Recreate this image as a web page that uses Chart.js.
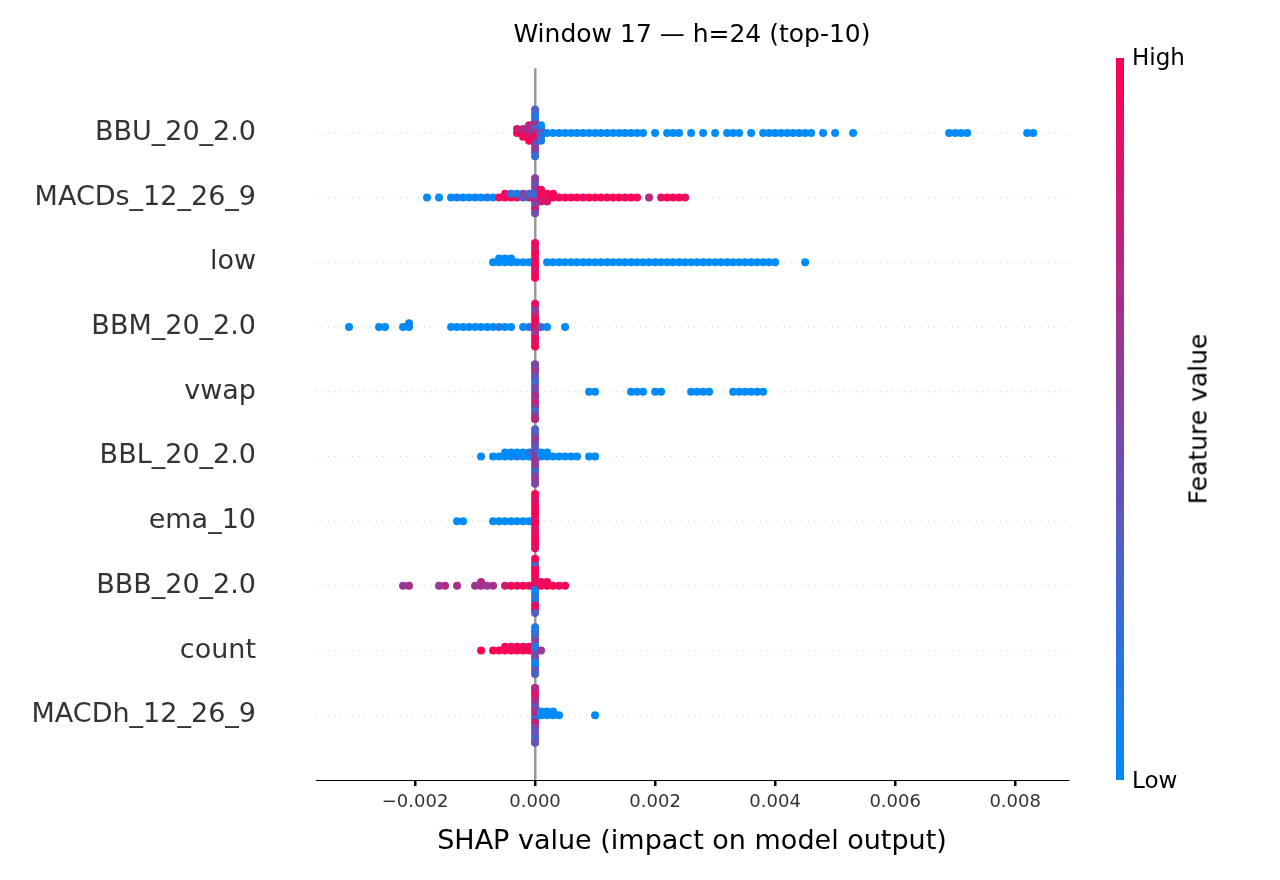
<!DOCTYPE html>
<html>
<head>
<meta charset="utf-8">
<script src="https://cdn.jsdelivr.net/npm/chart.js@4.4.1/dist/chart.umd.min.js"></script>
<style>
  body { margin: 0; background: #fff; font-family: "DejaVu Sans", sans-serif; }
  #wrap { position: relative; width: 1280px; height: 880px; }
  #title { position: absolute; top: 19px; left: 316px; width: 752px; text-align: center; font-size: 25px; color: #000; }
  #cbar { position: absolute; left: 1116px; top: 58px; width: 8px; height: 722px;
          background: linear-gradient(to bottom, #ff0052, #7c46a6, #008bfb); }
  .cl { position: absolute; left: 1132px; font-size: 23px; color: #000; }
  #fvl { position: absolute; left: 1198px; top: 419px; font-size: 25px; color: #000;
         transform: translate(-50%, -50%) rotate(-90deg); white-space: nowrap; }
</style>
</head>
<body>
<div id="wrap">
  <canvas id="c" width="1280" height="880"></canvas>
  <div id="title">Window 17 — h=24 (top-10)</div>
  <div id="cbar"></div>
  <div class="cl" style="top:44px">High</div>
  <div class="cl" style="top:767px">Low</div>
  <div id="fvl">Feature value</div>
</div>
<script>
// features, top to bottom
const features = ['BBU_20_2.0', 'MACDs_12_26_9', 'low', 'BBM_20_2.0', 'vwap',
                  'BBL_20_2.0', 'ema_10', 'BBB_20_2.0', 'count', 'MACDh_12_26_9'];
const xTicks = [-0.002, 0, 0.002, 0.004, 0.006, 0.008];

// SHAP values (x 1e-4) and feature values (0 = low, 1 = high)
const shapBBU = [-3,-3,-2,-2,-2,-1,-1,-1,-1,-1,0,0,0,0,0,0,0,0,0,0,0,0,0,1,1,1,1,1,2,3,4,5,6,7,8,9,10,11,12,13,14,15,16,17,18,20,22,23,24,26,28,30,32,33,34,36,38,39,40,41,42,43,44,45,46,48,50,53,69,70,71,72,82,83];
const featBBU = [0.9,0.8,0.9,0.7,0.95,0.9,0.6,0.8,0.7,1,0.5,0.6,0.9,0.3,0.8,0.7,0.4,0.2,0.6,0.1,0.5,0.3,0.2,0.1,0.4,0.2,0,0.1,0,0,0,0,0,0,0,0,0,0,0,0,0,0,0,0,0,0,0,0,0,0,0,0,0,0,0,0,0,0,0,0,0,0,0,0,0,0,0,0,0,0,0,0,0,0];
const shapMACDs = [-18,-16,-14,-13,-12,-11,-10,-9,-8,-7,-6,-5,-5,-4,-4,-3,-3,-2,-2,-1,-1,0,0,0,0,0,0,0,0,0,0,1,1,1,1,2,2,2,3,3,4,5,6,7,8,9,10,11,12,13,14,15,16,17,19,21,22,23,24,25];
const featMACDs = [0,0,0,0.1,0,0,0.05,0,0.1,0,0.95,1,0.9,1,0.2,0.9,0.1,0.3,0.5,0.6,0.3,0.5,0.2,0.7,0.3,0.4,0.6,0.8,0.35,0.45,0.55,0.9,1,0.8,0.95,1,0.9,0.85,0.95,1,0.9,1,0.95,1,0.9,1,0.95,1,0.9,1,0.95,0.9,1,0.95,0.7,0.9,1,0.95,1,0.9];
const shapLow = [-7,-6,-6,-5,-5,-4,-4,-3,-2,-1,0,0,0,0,0,0,0,0,0,0,2,3,4,5,6,7,8,9,10,11,12,13,14,15,16,17,18,19,20,21,22,23,24,25,26,27,28,29,30,31,32,33,34,35,36,37,38,39,40,45];
const featLow = [0,0,0,0,0,0,0,0,0,0,1,0.9,1,0.95,0.85,1,0.9,0.8,1,0.95,0,0,0,0,0,0,0,0,0,0,0,0,0,0,0,0,0,0,0,0,0,0,0,0,0,0,0,0,0,0,0,0,0,0,0,0,0,0,0,0];
const shapBBM = [-31,-26,-25,-22,-21,-21,-14,-13,-12,-11,-10,-9,-8,-7,-6,-5,-4,-2,-1,0,0,0,0,0,0,0,0,0,0,0,0,1,2,5];
const featBBM = [0,0,0,0,0,0.05,0,0,0,0.05,0,0,0,0,0.1,0,0,0,0.2,0.9,1,0.8,0.95,0.6,0.9,1,0.7,0.85,0.5,1,0.9,0.3,0,0];
const shapVwap = [0,0,0,0,0,0,0,0,0,0,0,0,0,0,0,0,0,0,9,10,16,17,18,20,21,26,27,28,29,33,34,35,36,37,38];
const featVwap = [0.3,0.5,0.7,0.4,0.6,0.2,0.8,0.35,0.55,0.45,0.25,0.65,0.5,0.4,0.6,0.3,0.7,0.5,0,0,0,0,0,0,0,0,0,0,0,0,0,0,0,0,0];
const shapBBL = [-9,-7,-6,-5,-5,-4,-4,-3,-3,-2,-2,-1,-1,0,0,0,0,0,0,0,0,0,0,0,0,0,0,0,1,1,2,2,3,4,5,6,7,9,10];
const featBBL = [0,0,0,0,0,0,0,0.1,0,0,0,0,0.2,0.3,0.5,0.7,0.4,0.6,0.35,0.55,0.45,0.2,0.65,0.5,0.4,0.6,0.3,0.5,0.1,0,0,0,0,0,0,0,0,0,0];
const shapEma = [-13,-12,-7,-6,-5,-4,-3,-2,-1,0,0,0,0,0,0,0,0,0,0,0,0,0,0,0];
const featEma = [0,0,0,0,0,0,0,0,0,1,0.9,1,0.95,0.85,1,0.9,1,0.95,0.9,1,0.85,0.95,1,0.9];
const shapBBB = [-22,-21,-16,-15,-13,-10,-9,-9,-8,-7,-5,-4,-3,-2,-1,0,0,0,0,0,0,0,0,0,0,0,0,0,0,0,1,1,2,2,3,4,5];
const featBBB = [0.6,0.65,0.6,0.7,0.65,0.6,0.65,0.7,0.6,0.65,0.8,0.95,0.9,1,0.9,1,0.95,0.1,0.9,0,1,0.2,0.95,0.1,1,0.9,0.2,0.95,1,0.3,1,0.9,1,0.95,1,0.9,1];
const shapCount = [-9,-7,-6,-5,-5,-4,-4,-3,-3,-2,-2,-1,-1,0,0,0,0,0,0,0,0,0,0,0,0,0,1];
const featCount = [1,1,1,0.95,1,1,0.9,1,0.95,1,0.9,1,0.95,0.3,0.1,0.4,0.2,0.5,0.6,0.1,0.3,0,0.2,0.4,0.1,0.3,0.6];
const shapMACDh = [0,0,0,0,0,0,0,0,0,0,0,0,0,0,0,0,0,1,1,2,2,3,3,4,10];
const featMACDh = [0.5,0.7,0.3,0.6,0.8,0.4,0.55,0.65,0.35,0.75,0.45,0.9,0.25,0.6,0.5,0.7,0.4,0,0,0,0,0,0,0,0];

const shapRows = [shapBBU, shapMACDs, shapLow, shapBBM, shapVwap, shapBBL, shapEma, shapBBB, shapCount, shapMACDh];
const featRows = [featBBU, featMACDs, featLow, featBBM, featVwap, featBBL, featEma, featBBB, featCount, featMACDh];

function colorFor(v) {
  const a = [0, 139, 251], b = [255, 0, 82];
  const c = a.map((x, i) => Math.round(x + (b[i] - x) * v));
  return `rgb(${c[0]},${c[1]},${c[2]})`;
}

// beeswarm layout: stack points that share an x bin
const points = [], colors = [];
shapRows.forEach((xs, row) => {
  const bins = {};
  xs.forEach((s, i) => {
    const key = Math.round(s);
    const k = bins[key] = (bins[key] || 0) + 1;
    const layer = Math.floor(k / 2) * (k % 2 ? 1 : -1);
    const off = Math.max(-0.42, Math.min(0.42, layer * 0.06));
    points.push({ x: s / 10000, y: row + off });
    colors.push(colorFor(featRows[row][i]));
  });
});

new Chart(document.getElementById('c'), {
  type: 'scatter',
  data: { datasets: [{ data: points, pointBackgroundColor: colors, pointBorderWidth: 0, pointRadius: 4 }] },
  options: {
    responsive: false,
    devicePixelRatio: 1,
    animation: false,
    layout: { padding: { top: 58, right: 212, left: 0, bottom: 22 } },
    plugins: { legend: { display: false }, tooltip: { enabled: false } },
    scales: {
      x: {
        min: -0.00365, max: 0.00888,
        afterBuildTicks: ax => { ax.ticks = xTicks.map(v => ({ value: v })); },
        afterFit: ax => { ax.height = 78; },
        ticks: {
          color: '#333', font: { family: 'DejaVu Sans', size: 18 }, padding: 6,
          callback: v => (v < 0 ? '\u2212' : '') + Math.abs(v).toFixed(3)
        },
        grid: { drawOnChartArea: true, color: c => c.tick && c.tick.value === 0 ? '#999' : 'rgba(0,0,0,0)',
                lineWidth: 2.5, tickColor: '#000', tickLength: 6 },
        border: { display: true, color: '#000', width: 1 },
        title: { display: true, text: 'SHAP value (impact on model output)', color: '#000',
                 font: { family: 'DejaVu Sans', size: 27 }, padding: { top: 2, bottom: 0 } }
      },
      y: {
        min: -1, max: 10, reverse: true,
        afterBuildTicks: ax => { ax.ticks = features.map((f, i) => ({ value: i })); },
        afterFit: ax => { ax.width = 316; },
        ticks: { color: '#333', font: { family: 'DejaVu Sans', size: 27 }, padding: 52,
                 callback: v => features[v] },
        grid: { display: false },
        border: { display: false }
      }
    }
  },
  plugins: [{
    id: 'dots',
    beforeDatasetsDraw(chart) {
      const { ctx, chartArea, scales } = chart;
      ctx.save();
      ctx.strokeStyle = '#ccc'; ctx.setLineDash([1, 5]); ctx.lineWidth = 1;
      features.forEach((f, i) => {
        const y = scales.y.getPixelForValue(i);
        ctx.beginPath(); ctx.moveTo(chartArea.left, y); ctx.lineTo(chartArea.right, y); ctx.stroke();
      });
      ctx.restore();
    }
  }]
});
</script>
</body>
</html>
